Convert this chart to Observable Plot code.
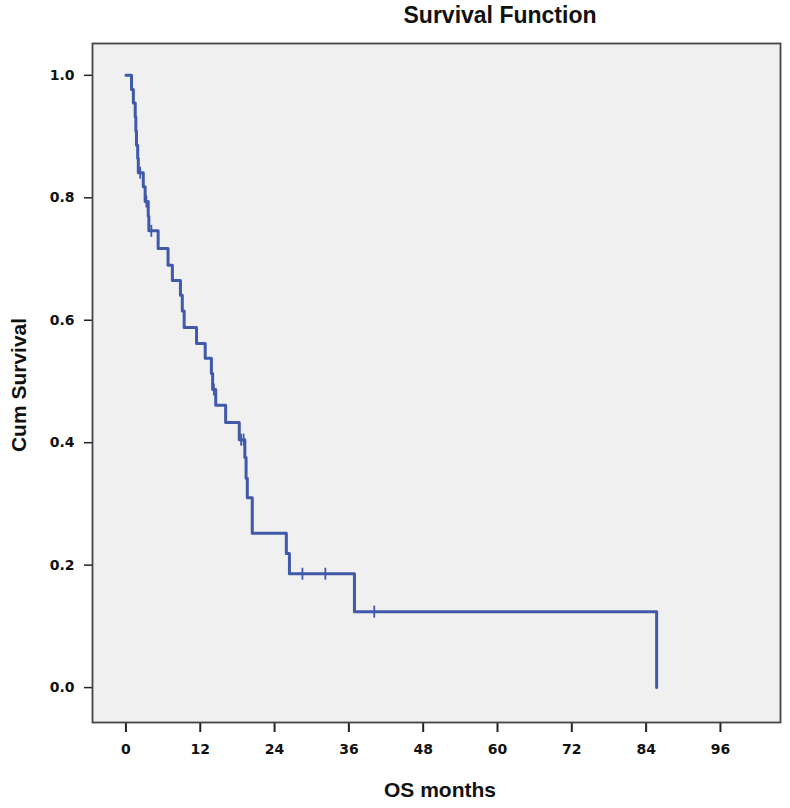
<!DOCTYPE html>
<html>
<head>
<meta charset="utf-8">
<script src="https://cdn.jsdelivr.net/npm/d3@7"></script>
<script src="https://cdn.jsdelivr.net/npm/@observablehq/plot@0.6"></script>
<style>
  html, body { margin: 0; padding: 0; background: #fff; }
  #wrap { position: relative; width: 790px; height: 808px; font-family: "Liberation Sans", Arial, sans-serif; }
  #wrap svg { position: absolute; left: 0; top: 0; }
  .ttl { position: absolute; font-weight: bold; color: #111; white-space: nowrap; font-family: "Liberation Sans", Arial, sans-serif; }
</style>
</head>
<body>
<div id="wrap"></div>
<script>
// Kaplan-Meier step points (time in months, cumulative survival after the step)
const stepTimes = [0, 0.9, 1.2, 1.5, 1.6, 1.7, 1.9, 2.0, 2.8, 3.1, 3.6, 3.7, 5.2, 6.8, 7.5, 8.8, 9.1, 9.4, 11.4, 12.8, 13.8, 14.0, 14.5, 16.1, 18.3, 19.2, 19.4, 19.6, 20.4, 25.9, 26.4, 36.9, 85.7];
const survival  = [1.0, 0.977, 0.955, 0.932, 0.909, 0.886, 0.864, 0.841, 0.818, 0.794, 0.770, 0.746, 0.717, 0.690, 0.665, 0.641, 0.615, 0.588, 0.562, 0.538, 0.513, 0.487, 0.461, 0.433, 0.405, 0.376, 0.342, 0.310, 0.252, 0.219, 0.186, 0.124, 0.0];
// Censored observations
const censorTimes  = [2.3, 3.3, 4.1, 14.2, 18.6, 19.0, 28.5, 32.2, 40.1];
const censorLevels = [0.841, 0.794, 0.746, 0.487, 0.405, 0.405, 0.186, 0.186, 0.124];
// Axis ticks
const xTicks = [0, 12, 24, 36, 48, 60, 72, 84, 96];
const yTicks = [0, 0.2, 0.4, 0.6, 0.8, 1.0];

const steps = stepTimes.map((t, i) => ({t, s: survival[i]}));
const censors = censorTimes.map((t, i) => ({t, s: censorLevels[i]}));

const blue = "#4059ab";
const vbar = {draw(ctx, size) { const r = Math.sqrt(size / Math.PI); ctx.moveTo(0, -r); ctx.lineTo(0, r); }};

const chart = Plot.plot({
  width: 790,
  height: 808,
  marginLeft: 92,
  marginRight: 10,
  marginTop: 43,
  marginBottom: 86,
  style: {background: "transparent", fontFamily: "DejaVu Sans, sans-serif"},
  x: {domain: [-5.4, 105.7], label: null},
  y: {domain: [-0.057, 1.052], label: null},
  marks: [
    Plot.frame({fill: "#f0f0f0", stroke: "none"}),
    Plot.axisX({ticks: xTicks, tickSize: 10, tickPadding: 12, stroke: "#222", strokeWidth: 2, fill: "#111"}),
    Plot.axisY({ticks: yTicks, tickFormat: d3.format(".1f"), tickSize: 8, tickPadding: 10, stroke: "#222", strokeWidth: 1.5, fill: "#111"}),
    Plot.line(steps, {x: "t", y: "s", curve: "step-after", stroke: blue, strokeWidth: 3}),
    Plot.dot(censors, {x: "t", y: "s", symbol: vbar, r: 6, stroke: blue, strokeWidth: 1.8}),
    Plot.frame({stroke: "#444", strokeWidth: 1.8})
  ]
});

// enlarge tick labels
d3.select(chart).selectAll("g[aria-label$='tick label']")
  .attr("font-size", null)
  .style("font-size", "14px")
  .style("font-weight", "bold")
  .style("font-family", "DejaVu Sans, sans-serif");

const wrap = document.getElementById("wrap");
wrap.appendChild(chart);

function addText(txt, css) {
  const d = document.createElement("div");
  d.className = "ttl";
  d.textContent = txt;
  Object.assign(d.style, css);
  wrap.appendChild(d);
}
addText("Survival Function", {left: "500px", top: "2px", fontSize: "23px", transform: "translateX(-50%)"});
addText("OS months", {left: "440px", top: "778px", fontSize: "21px", transform: "translateX(-50%)"});
addText("Cum Survival", {left: "19px", top: "385px", fontSize: "21px", transform: "translate(-50%, -50%) rotate(-90deg)"});
</script>
</body>
</html>
